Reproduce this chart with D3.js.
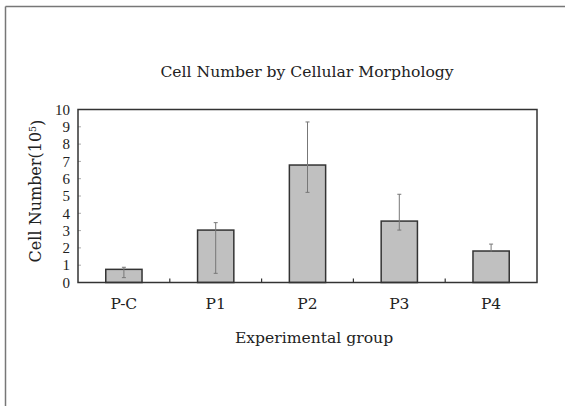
<!DOCTYPE html>
<html><head><meta charset="utf-8">
<script src="https://cdn.jsdelivr.net/npm/d3@7"></script>
<style>body{margin:0;background:#fff}svg{display:block}text{fill:#222}.s{font-family:"DejaVu Serif",serif}.t{font-family:"Liberation Serif",serif}</style>
</head><body>
<svg id="c" width="565" height="406"></svg>
<script>
const categories = ["P-C","P1","P2","P3","P4"];
const values = [0.76, 3.03, 6.79, 3.55, 1.82];
const errLow = [0.28, 0.53, 5.21, 3.03, 1.78];
const errHigh = [0.88, 3.46, 9.28, 5.10, 2.22];
const yTicks = [0,1,2,3,4,5,6,7,8,9,10];
const title = "Cell Number by Cellular Morphology";
const xTitle = "Experimental group";

const svg = d3.select("#c");
svg.append("line").attr("x1",5.5).attr("x2",565).attr("y1",6.5).attr("y2",6.5).attr("stroke","#777").attr("stroke-width",1.5);
svg.append("line").attr("x1",5.5).attr("x2",5.5).attr("y1",6.5).attr("y2",406).attr("stroke","#777").attr("stroke-width",1.5);

const L=78, R=537, T=109.5, B=282.5;
const x = d3.scaleBand().domain(categories).range([L,R]).paddingInner(0.605).paddingOuter(0.3025);
const xb = d3.scaleBand().domain(categories).range([L,R]);
const y = d3.scaleLinear().domain([0,10]).range([B,T]);

svg.append("g").selectAll("line").data(yTicks.slice(1,-1)).join("line")
  .attr("x1",L).attr("x2",L+3).attr("y1",d=>y(d)).attr("y2",d=>y(d)).attr("stroke","#aaa").attr("stroke-width",1);
svg.append("g").selectAll("line").data(categories.slice(1)).join("line")
  .attr("x1",d=>xb(d)).attr("x2",d=>xb(d)).attr("y1",B).attr("y2",B-4).attr("stroke","#333").attr("stroke-width",1.2);

svg.append("g").selectAll("rect").data(categories).join("rect")
  .attr("x",d=>x(d)).attr("width",x.bandwidth())
  .attr("y",(d,i)=>y(values[i])).attr("height",(d,i)=>B-y(values[i]))
  .attr("fill","#c0c0c0").attr("stroke","#333").attr("stroke-width",1.5);

const eg = svg.append("g").attr("stroke","#777").attr("stroke-width",1);
categories.forEach((c,i)=>{
  const cx = x(c)+x.bandwidth()/2;
  eg.append("line").attr("x1",cx).attr("x2",cx).attr("y1",y(errLow[i])).attr("y2",y(errHigh[i]));
  eg.append("line").attr("x1",cx-2).attr("x2",cx+2).attr("y1",y(errHigh[i])).attr("y2",y(errHigh[i]));
  if (errLow[i] < values[i]-0.1) eg.append("line").attr("x1",cx-2).attr("x2",cx+2).attr("y1",y(errLow[i])).attr("y2",y(errLow[i]));
});

svg.append("rect").attr("x",L).attr("y",T).attr("width",R-L).attr("height",B-T).attr("fill","none").attr("stroke","#333").attr("stroke-width",1.5);

svg.append("g").selectAll("text").data(yTicks).join("text").attr("class","t")
  .attr("x",70).attr("y",d=>y(d)).attr("dy","0.35em").attr("text-anchor","end")
  .style("font-size","15px").text(d=>d);
svg.append("g").selectAll("text").data(categories).join("text").attr("class","s")
  .attr("x",d=>x(d)+x.bandwidth()/2).attr("y",309).attr("text-anchor","middle")
  .style("font-size","15.5px").text(d=>d);

svg.append("text").attr("class","s").attr("x",307).attr("y",77).attr("text-anchor","middle").style("font-size","15.6px").text(title);
svg.append("text").attr("class","s").attr("x",314).attr("y",343).attr("text-anchor","middle").style("font-size","15.6px").text(xTitle);
const yl = svg.append("text").attr("class","s").attr("transform","translate(40.5,191) rotate(-90)").attr("text-anchor","middle").style("font-size","16px");
yl.append("tspan").text("Cell Number(10");
yl.append("tspan").attr("dy","-0.45em").style("font-size","9.5px").text("5");
yl.append("tspan").attr("dy","0.45em").text(")");
</script>
</body></html>
